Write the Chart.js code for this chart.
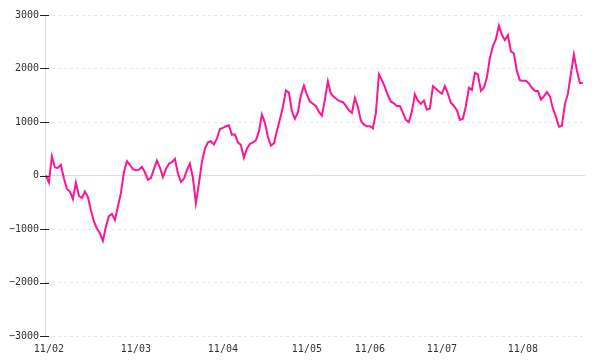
<!DOCTYPE html>
<html>
<head>
<meta charset="utf-8">
<script src="https://cdn.jsdelivr.net/npm/chart.js@4/dist/chart.umd.min.js"></script>
<style>
  html, body { margin: 0; padding: 0; background: #fff; }
  #wrap { width: 600px; height: 360px; }
</style>
</head>
<body>
<div id="wrap"><canvas id="chart"></canvas></div>
<script>
// daily values (one point every ~3px)
const values = [
  0, -130, 360, 150, 140, 200, -50, -250, -300, -440,
  -130, -380, -420, -300, -400, -650, -860, -990, -1080, -1220,
  -960, -760, -720, -830, -580, -330, 60, 270, 200, 120,
  100, 110, 160, 60, -80, -50, 120, 280, 150, -30,
  120, 220, 250, 310, 40, -120, -60, 100, 220, -40,
  -520, -150, 250, 500, 620, 640, 580, 690, 870, 890,
  920, 940, 760, 770, 620, 570, 330, 500, 590, 620,
  660, 820, 1140, 990, 720, 560, 600, 830, 1050, 1280,
  1590, 1550, 1200, 1060, 1180, 1500, 1680, 1510, 1380, 1340,
  1300, 1190, 1120, 1420, 1760, 1530, 1470, 1420, 1390, 1370,
  1300, 1220, 1170, 1450, 1280, 1020, 950, 920, 920, 880,
  1170, 1890, 1780, 1650, 1500, 1380, 1350, 1300, 1300, 1170,
  1040, 1000, 1200, 1520, 1400, 1340, 1400, 1230, 1250, 1670,
  1620, 1570, 1530, 1670, 1530, 1360, 1300, 1220, 1040, 1060,
  1300, 1640, 1600, 1920, 1890, 1580, 1640, 1830, 2200, 2420,
  2550, 2800, 2630, 2530, 2620, 2320, 2280, 1950, 1780, 1770,
  1770, 1720, 1640, 1580, 1580, 1420, 1480, 1560, 1480, 1250,
  1100, 910, 930, 1330, 1530, 1900, 2260, 1960, 1730, 1730
];

// month tick labels and the index of the day they sit on
const monthLabels = ['11/02', '11/03', '11/04', '11/05', '11/06', '11/07', '11/08'];
const monthIdx = [1, 30, 59, 87, 108, 132, 159];

const yTicks = [-3000, -2000, -1000, 0, 1000, 2000, 3000];

const FONT = { family: '"DejaVu Sans Mono", monospace', size: 10 };

// small dark tick marks that cross the y axis line
const yTickMarks = {
  id: 'yTickMarks',
  afterDraw(chart) {
    const y = chart.scales.y;
    const ctx = chart.ctx;
    ctx.save();
    ctx.strokeStyle = '#222';
    ctx.lineWidth = 1;
    yTicks.forEach(v => {
      const py = Math.round(y.getPixelForValue(v)) + 0.5;
      ctx.beginPath();
      ctx.moveTo(y.right - 5, py);
      ctx.lineTo(y.right + 4, py);
      ctx.stroke();
    });
    ctx.restore();
  }
};

new Chart(document.getElementById('chart'), {
  type: 'line',
  data: {
    datasets: [{
      data: values.map((v, i) => ({ x: i, y: v })),
      borderColor: '#ff1493',
      borderWidth: 2,
      pointRadius: 0,
      tension: 0,
      fill: false
    }]
  },
  options: {
    responsive: true,
    maintainAspectRatio: false,
    animation: false,
    layout: { padding: { top: 15, right: 15, bottom: 0, left: 0 } },
    plugins: {
      legend: { display: false },
      tooltip: { enabled: false }
    },
    scales: {
      x: {
        type: 'linear',
        min: -0.3,
        max: values.length - 0.3,
        afterBuildTicks: s => { s.ticks = monthIdx.map(v => ({ value: v })); },
        afterFit: s => { s.height = 24; },
        grid: { display: false, drawTicks: false },
        border: { display: false },
        ticks: {
          autoSkip: false,
          maxRotation: 0,
          padding: 7,
          color: '#333',
          font: FONT,
          callback: v => monthLabels[monthIdx.indexOf(v)]
        }
      },
      y: {
        min: -3000,
        max: 3000,
        afterBuildTicks: s => { s.ticks = yTicks.map(v => ({ value: v })); },
        afterFit: s => { s.width = 45; },
        grid: {
          color: c => c.tick && c.tick.value === 0 ? '#dcdcdc' : '#e8e8e8',
          lineWidth: 1,
          drawTicks: false
        },
        border: {
          display: true,
          color: '#dcdcdc',
          dash: c => c.tick && c.tick.value === 0 ? [] : [3, 3]
        },
        ticks: {
          padding: 6,
          color: '#333',
          font: FONT,
          callback: v => v < 0 ? '\u2212' + Math.abs(v) : String(v)
        }
      }
    }
  },
  plugins: [yTickMarks]
});
</script>
</body>
</html>
